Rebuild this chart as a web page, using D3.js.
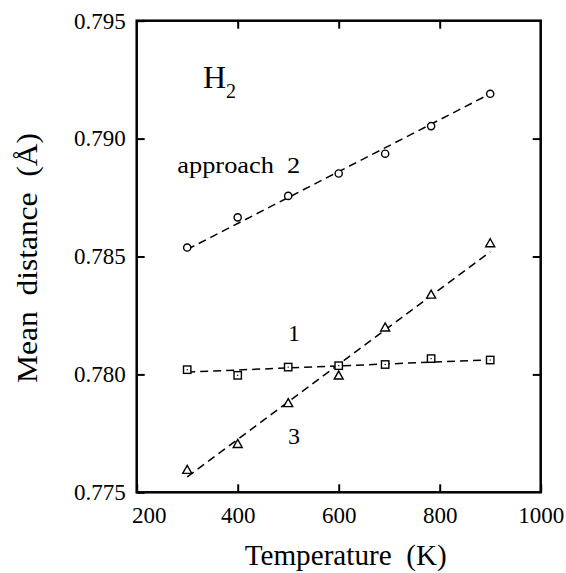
<!DOCTYPE html>
<html>
<head>
<meta charset="utf-8">
<script src="https://cdn.jsdelivr.net/npm/d3@7"></script>
<style>
  body { margin: 0; background: #fff; }
</style>
</head>
<body>
<div id="chart"></div>
<script>
// temperatures (K) and mean H2 distances for the three approaches
var temps = [300, 400, 500, 600, 692, 783, 900];
var approach1 = [0.7802, 0.77996, 0.78031, 0.78037, 0.78042, 0.78067, 0.78061];
var approach2 = [0.78538, 0.78666, 0.78757, 0.78852, 0.78936, 0.79053, 0.7919];
var approach3 = [0.77596, 0.77706, 0.77879, 0.77996, 0.782, 0.78339, 0.78557];

// dashed fit lines, end points
var fitTemps = [300, 900];
var fit1 = [0.7801, 0.78062];
var fit2 = [0.7853, 0.7919];
var fit3 = [0.77565, 0.7852];

var xTicks = [200, 400, 600, 800, 1000];
var yTicks = [0.775, 0.780, 0.785, 0.790, 0.795];

var serif = '"Liberation Serif", "Times New Roman", Times, serif';

var margin = { top: 20.7, right: 25.3, bottom: 80.7, left: 136.7 },
    width = 566 - margin.left - margin.right,
    height = 573 - margin.top - margin.bottom;

var svg = d3.select('#chart')
    .append('svg')
    .attr('width', 566)
    .attr('height', 573)
    .append('g')
    .attr('transform', 'translate(' + margin.left + ',' + margin.top + ')');

var x = d3.scaleLinear().domain([200, 1000]).range([0, width]);
var y = d3.scaleLinear().domain([0.775, 0.795]).range([height, 0]);

// axes (ticks pointing inward)
var xAxis = svg.append('g')
    .attr('transform', 'translate(0,' + height + ')')
    .call(d3.axisBottom(x).tickValues(xTicks).tickFormat(d3.format('d'))
        .tickSize(-8).tickSizeOuter(0).tickPadding(14));
xAxis.selectAll('text').attr('dx', function(d) { return d === 200 ? 12 : 0; });

svg.append('g')
    .call(d3.axisLeft(y).tickValues(yTicks).tickFormat(d3.format('.3f'))
        .tickSize(-8).tickSizeOuter(0).tickPadding(11));

svg.append('g')
    .call(d3.axisTop(x).tickValues(xTicks.slice(1, -1)).tickFormat('')
        .tickSize(-8).tickSizeOuter(0));

svg.append('g')
    .attr('transform', 'translate(' + width + ',0)')
    .call(d3.axisRight(y).tickValues(yTicks.slice(1, -1)).tickFormat('')
        .tickSize(-8).tickSizeOuter(0));

svg.selectAll('.domain').remove();
svg.selectAll('.tick line').attr('stroke', '#000').attr('stroke-width', 2);
svg.selectAll('.tick text').style('font-size', '23px').attr('fill', '#000');

svg.append('rect')
    .attr('width', width)
    .attr('height', height)
    .attr('fill', 'none')
    .attr('stroke', '#000')
    .attr('stroke-width', 2.5);

// fit lines
var line = d3.line()
    .x(function(d) { return x(d[0]); })
    .y(function(d) { return y(d[1]); });

[fit1, fit2, fit3].forEach(function(f) {
    svg.append('path')
        .datum(d3.zip(fitTemps, f))
        .attr('d', line)
        .attr('fill', 'none')
        .attr('stroke', '#000')
        .attr('stroke-width', 1.5)
        .attr('stroke-dasharray', '8,5');
});

// approach 2: circles
svg.selectAll('.c2')
    .data(d3.zip(temps, approach2))
    .enter().append('circle')
    .attr('cx', function(d) { return x(d[0]); })
    .attr('cy', function(d) { return y(d[1]); })
    .attr('r', 3.6)
    .attr('fill', '#fff')
    .attr('stroke', '#000')
    .attr('stroke-width', 1.4);

// approach 1: squares
var sq = svg.selectAll('.s1')
    .data(d3.zip(temps, approach1))
    .enter().append('g')
    .attr('transform', function(d) { return 'translate(' + x(d[0]) + ',' + y(d[1]) + ')'; });
sq.append('rect')
    .attr('x', -3.7).attr('y', -3.7)
    .attr('width', 7.4).attr('height', 7.4)
    .attr('fill', '#fff')
    .attr('stroke', '#000')
    .attr('stroke-width', 1.4);
sq.append('rect')
    .attr('x', -0.6).attr('y', -0.6)
    .attr('width', 1.2).attr('height', 1.2)
    .attr('fill', '#000');

// approach 3: triangles
svg.selectAll('.t3')
    .data(d3.zip(temps, approach3))
    .enter().append('path')
    .attr('transform', function(d) { return 'translate(' + x(d[0]) + ',' + y(d[1]) + ')'; })
    .attr('d', 'M0,-4.3L4.5,3.7L-4.5,3.7Z')
    .attr('fill', '#fff')
    .attr('stroke', '#000')
    .attr('stroke-width', 1.4);

// labels inside the plot
svg.append('text')
    .attr('x', x(280.4)).attr('y', y(0.78855))
    .attr('textLength', 123).attr('lengthAdjust', 'spacingAndGlyphs')
    .style('font-size', '24px').style('white-space', 'pre')
    .text('approach  2');

svg.append('text')
    .attr('x', x(511.5)).attr('y', y(0.78141))
    .attr('text-anchor', 'middle')
    .style('font-size', '24px')
    .text('1');

svg.append('text')
    .attr('x', x(511.5)).attr('y', y(0.77706))
    .attr('text-anchor', 'middle')
    .style('font-size', '24px')
    .text('3');

var h2 = svg.append('text')
    .attr('x', x(331.3)).attr('y', y(0.79214))
    .style('font-size', '32px');
h2.append('tspan').text('H');
h2.append('tspan').attr('dy', 9.7).style('font-size', '20px').text('2');

// axis titles
svg.append('text')
    .attr('x', width / 2 + 7).attr('y', height + 72.7)
    .attr('text-anchor', 'middle')
    .attr('textLength', 202).attr('lengthAdjust', 'spacingAndGlyphs')
    .style('font-size', '29px').style('white-space', 'pre')
    .text('Temperature  (K)');

svg.append('text')
    .attr('transform', 'translate(' + (36.5 - margin.left) + ',' + (258 - margin.top) + ') rotate(-90)')
    .attr('text-anchor', 'middle')
    .attr('textLength', 250).attr('lengthAdjust', 'spacingAndGlyphs')
    .style('font-size', '29px').style('white-space', 'pre')
    .text('Mean  distance  (Å)');

svg.selectAll('text').style('font-family', serif).attr('fill', '#000');
</script>
</body>
</html>
